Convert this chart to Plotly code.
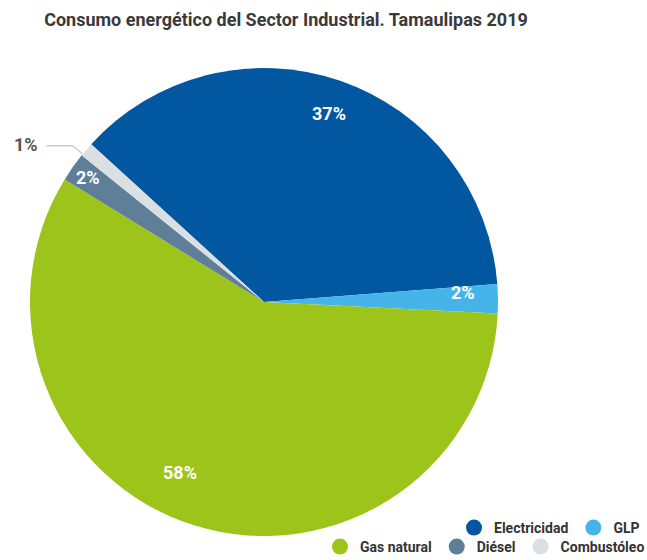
import math
import plotly.graph_objects as go

title = "Consumo energético del Sector Industrial. Tamaulipas 2019"
categories = ["Electricidad", "GLP", "Gas natural", "Diésel", "Combustóleo"]
values = [37, 2, 58, 2, 1]
colors = ["#0157A0", "#45B4E8", "#9DC41B", "#5F7E97", "#DADFE4"]

# label placement style (fraction of radius, angular nudge in degrees)
label_r = [0.85, 0.85, 0.81, 0.92, 0.0]
label_nudge = [0, -2, 9, 0, 0]

FONT = "Roboto, Liberation Sans, sans-serif"
W, H = 647, 560
cx, cy, R = 264, 302, 234
rotation = 312.4

fig = go.Figure()
fig.add_trace(go.Pie(
    labels=categories, values=values, sort=False, direction="clockwise",
    rotation=rotation, marker=dict(colors=colors, line=dict(width=0)),
    textinfo="none",
    domain=dict(x=[(cx - R) / W, (cx + R) / W], y=[1 - (cy + R) / H, 1 - (cy - R) / H]),
    showlegend=False, hoverinfo="label+percent",
))

total = sum(values)
start = rotation
for i, (cat, v) in enumerate(zip(categories, values)):
    span = 360 * v / total
    pct = round(100 * v / total)
    if v >= 2:
        a = math.radians(start + span / 2 + label_nudge[i])
        lx = cx + label_r[i] * R * math.sin(a)
        ly = cy - label_r[i] * R * math.cos(a)
        fig.add_annotation(x=lx / W, y=1 - ly / H, xref="paper", yref="paper",
                           xanchor="center", yanchor="middle",
                           text=f"<b>{pct}%</b>", showarrow=False,
                           font=dict(family=FONT, size=18, color="white"))
    else:
        mid = math.radians(start + span / 2)
        ex = cx + R * math.sin(mid)
        ey = cy - R * math.cos(mid)
        fig.add_shape(type="path", xref="paper", yref="paper",
                      xsizemode="pixel", ysizemode="pixel",
                      xanchor=ex / W, yanchor=1 - ey / H,
                      path="M -4,-4 L -14,4 L -40,4",
                      line=dict(color="#C8CDD2", width=1.5))
        fig.add_annotation(x=ex / W, y=1 - ey / H, xref="paper", yref="paper",
                           xanchor="center", yanchor="middle",
                           text=f"<b>{pct}%</b>", showarrow=False,
                           xshift=-60, yshift=5,
                           font=dict(family=FONT, size=18, color="#555555"))
    start += span

# legend entries (two rows)
for i, (cat, col) in enumerate(zip(categories, colors)):
    fig.add_trace(go.Scatter(
        x=[None], y=[None], mode="markers", name=cat,
        marker=dict(color=col, size=16, symbol="circle"),
        legend="legend" if i < 2 else "legend2", showlegend=True,
    ))

legend_common = dict(orientation="h", xanchor="left", yanchor="middle",
                     font=dict(family=FONT, size=14, color="#333333", weight="bold"),
                     bgcolor="rgba(0,0,0,0)", itemwidth=30, tracegroupgap=0)

fig.update_layout(
    width=W, height=H, paper_bgcolor="white", plot_bgcolor="white",
    margin=dict(l=0, r=0, t=0, b=0, autoexpand=False),
    title=dict(text=f"<b>{title}</b>", x=286 / W, xanchor="center", xref="paper",
               y=1 - 20 / H, yanchor="middle", yref="container",
               font=dict(family=FONT, size=18, color="#3A3A3A")),
    xaxis=dict(visible=False), yaxis=dict(visible=False),
    legend=dict(**legend_common, x=454 / W, y=1 - 528 / H),
    legend2=dict(**legend_common, x=320 / W, y=1 - 547 / H),
)

fig.write_html("out.html", config={"displayModeBar": False},
               post_script="document.body.style.margin='0';document.body.style.overflow='hidden';")
